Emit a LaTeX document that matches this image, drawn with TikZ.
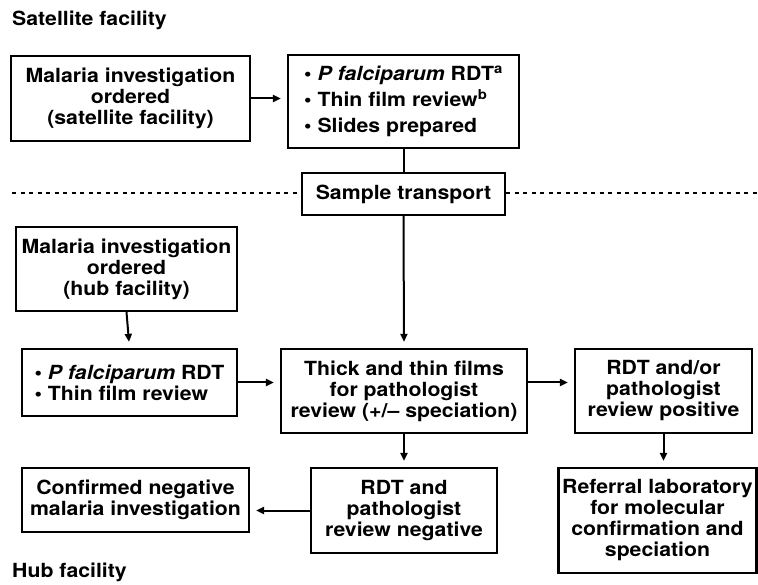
\documentclass[tikz,border=0pt]{standalone}
\usepackage{fontspec}
\setmainfont{TeX Gyre Heros}[FakeStretch=1.09]
\usetikzlibrary{arrows.meta}
\begin{document}
\begin{tikzpicture}[x=1pt,y=-1pt,
  box/.style={draw, line width=2.3pt, rectangle, inner sep=0pt, align=center,
    font=\fontsize{19.5}{21}\selectfont\bfseries},
  lbl/.style={inner sep=0pt, font=\fontsize{19.5}{21}\selectfont\bfseries, anchor=base west},
  arr/.style={line width=2pt, -{Triangle[length=8pt,width=7pt]}, shorten >=6pt},
  conn/.style={line width=2pt},
  sep/.style={line width=1.4pt, dash pattern=on 4pt off 4.5pt}]
\useasboundingbox (0,0) rectangle (758,585);

\node[lbl] (satlbl) at (12,26) {Satellite facility};
\node[lbl] (hublbl) at (12,577) {Hub facility};

\node[box, minimum width=239pt, minimum height=85pt] (sat) at (130.5,98.5)
  {Malaria investigation\\ordered\\(satellite facility)};
\node[box, minimum width=231pt, minimum height=93pt, align=left,
  font=\fontsize{19.5}{26}\selectfont\bfseries] (sattest) at (403.5,101.5)
  {\textbullet\ \textit{P falciparum} RDT\textsuperscript{a}\\
   \textbullet\ Thin film review\textsuperscript{b}\\
   \textbullet\ Slides prepared};
\node[box, minimum width=203pt, minimum height=42pt] (trans) at (403.5,194) {Sample transport};

\node[box, minimum width=221pt, minimum height=84pt] (hub) at (126.5,269)
  {Malaria investigation\\ordered\\(hub facility)};
\node[box, minimum width=215pt, minimum height=67pt, align=left] (pf) at (129.5,382.5)
  {\textbullet\ \textit{P falciparum} RDT\\\textbullet\ Thin film review};
\node[box, minimum width=246pt, minimum height=84pt] (thick) at (404,391)
  {Thick and thin films\\for pathologist\\review (+/– speciation)};
\node[box, minimum width=177pt, minimum height=84pt] (pos) at (663.5,391)
  {RDT and/or\\pathologist\\review positive};
\node[box, minimum width=186pt, minimum height=85pt] (neg) at (404,510.5)
  {RDT and\\pathologist\\review negative};
\node[box, minimum width=227pt, minimum height=64pt] (conf) at (135.5,500)
  {Confirmed negative\\malaria investigation};
\node[box, minimum width=198pt, minimum height=105pt] (ref) at (657.5,520.5)
  {Referral laboratory\\for molecular\\confirmation and\\speciation};

\coordinate (dl) at (12,193);
\coordinate (dr) at (758,193);
\draw[sep] (dl) -- (trans.west |- dl);
\draw[sep] (trans.east |- dr) -- (dr);

\draw[arr] (sat.east |- sat.east) -- (sattest.west |- sat.east);
\draw[conn] (sattest.south) -- (trans.north);
\draw[arr] (trans.south) -- (thick.north);
\draw[arr] (hub.south) -- (pf.north);
\draw[arr] (pf.east) -- (thick.west |- pf.east);
\draw[arr] (thick.east |- pf.east) -- (pos.west |- pf.east);
\draw[arr] (thick.south) -- (neg.north);
\draw[arr] (pos.south) -- (ref.north -| pos.south);
\draw[arr] (neg.west) -- (conf.east |- neg.west);
\end{tikzpicture}
\end{document}
